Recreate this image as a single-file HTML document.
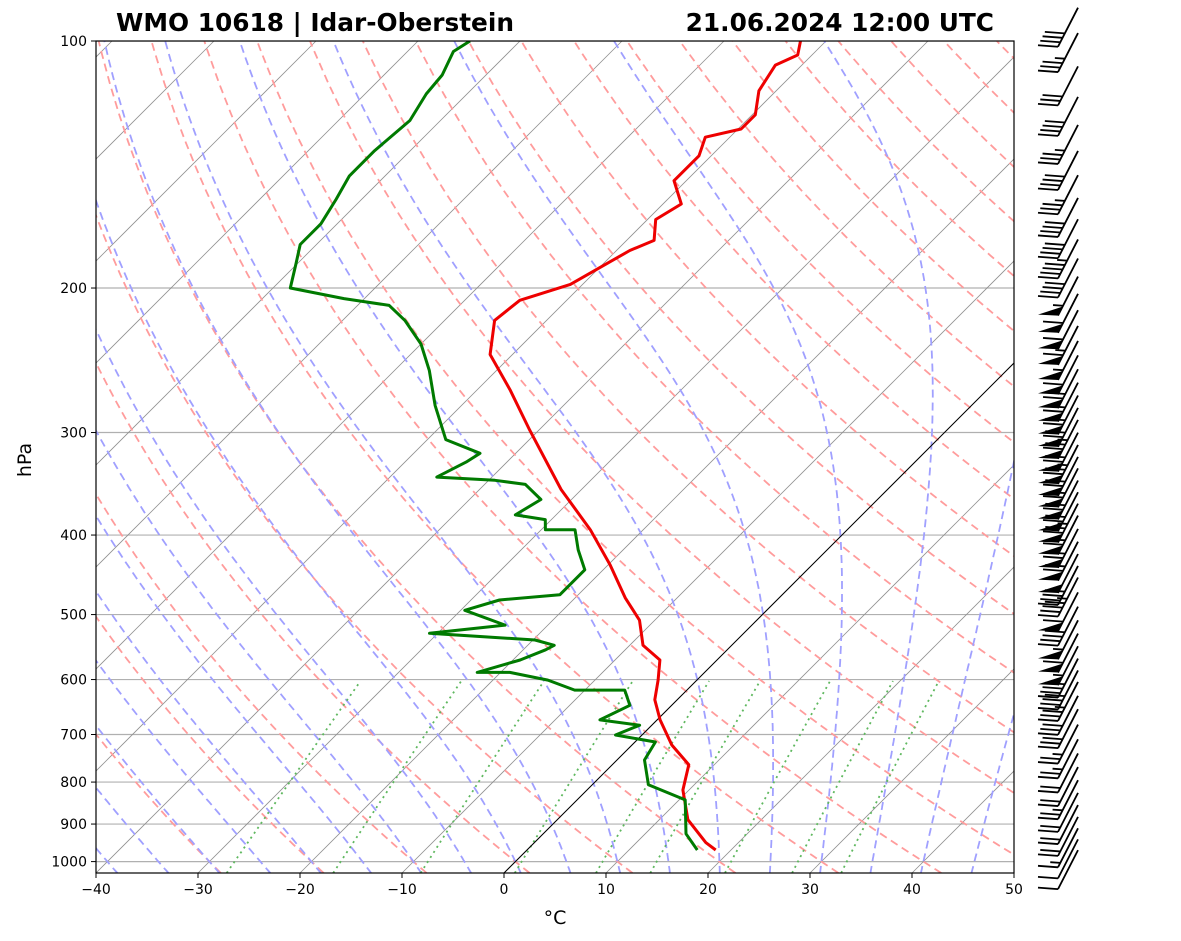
<!DOCTYPE html>
<html><head><meta charset="utf-8">
<style>
html,body{margin:0;padding:0;background:#fff;}
svg{display:block;font-family:"DejaVu Sans","Liberation Sans",sans-serif;}
</style></head>
<body>
<svg id="chart" width="1181" height="941" viewBox="0 0 1181 941" xmlns="http://www.w3.org/2000/svg">
<defs><clipPath id="plotclip"><rect x="96" y="41" width="918" height="832"/></clipPath></defs>
<rect width="1181" height="941" fill="#fff"/>
<text x="116" y="31" font-size="24.8" font-weight="bold">WMO 10618 | Idar-Oberstein</text>
<text x="994" y="31" font-size="24.8" font-weight="bold" text-anchor="end">21.06.2024 12:00 UTC</text>
<g id="bg" clip-path="url(#plotclip)"></g>
<g id="data" clip-path="url(#plotclip)"></g>
<rect x="96" y="41" width="918" height="832" fill="none" stroke="#000" stroke-width="1.2"/>
<g id="axes"></g>
<g id="barbs"></g>
<text transform="translate(31,460) rotate(-90)" font-size="19" text-anchor="middle">hPa</text>
<text x="555" y="924" font-size="19" text-anchor="middle">°C</text>
</svg>
<script>
// ---- data ----
const tempP = [968,948,889,818,762,721,672,635,601,568,545,508,477,435,394,352,298,266,241,219,207,198,187,180,175,165,158,148,138,131,128,123,115,107,104,100];
const tempT = [18.5,16.8,12.8,9.4,7.5,3.9,0.3,-2.2,-3.8,-5.6,-8.7,-11.5,-15.1,-19.8,-25.2,-32,-40.9,-46.8,-52.2,-55.1,-54.6,-51.2,-49.7,-48.7,-47.3,-49.2,-48.2,-51.2,-51.2,-52.4,-49.7,-49.7,-51.7,-52.6,-51.4,-52.5];
const dewP = [968,925,841,806,752,715,701,682,672,645,618,618,601,588,588,568,552,545,537,527,515,494,480,473,441,417,394,394,383,378,362,347,343,340,326,318,306,278,252,234,219,210,206,200,187,177,167,156,146,136,125,116,110,103,100];
const dewT = [16.7,14.0,10.6,5.5,2.7,2.0,-2.6,-1.2,-5.6,-4.1,-6.1,-11.0,-14.6,-19.1,-22.3,-19.3,-17.8,-17.4,-19.8,-30.8,-24.2,-29.6,-27.2,-21.8,-21.8,-24.4,-26.7,-29.6,-30.6,-34.0,-33.0,-36.0,-39.4,-45.4,-44.0,-43.5,-48.2,-52.6,-56.6,-60.0,-63.9,-66.9,-72,-78.3,-80.1,-81.6,-81.6,-82.5,-83.5,-83.5,-83.0,-84,-84.3,-85.5,-84.9];
const windP = [1010,980,950,920,890,860,830,800,770,740,710,680,655,630,610,590,570,550,530,510,490,470,455,440,425,410,395,382,370,358,346,335,324,313,302,292,282,272,262,252,242,232,222,212,202,192,182,172,162,152,142,132,122,112,102,95];
const windS = [10,10,15,20,20,20,25,20,20,25,25,30,30,35,40,40,55,60,55,40,60,45,40,50,70,70,65,75,70,70,65,70,75,70,75,70,70,65,70,60,55,65,60,60,55,40,45,40,40,35,40,35,40,30,35,40];
const xTicks = [-40,-30,-20,-10,0,10,20,30,40,50];
const pTicks = [100,200,300,400,500,600,700,800,900,1000];

// ---- axes functions ----
const X0=96,X1=1014,Y0=41,Y1=873,PXC=10.2,DEC=820.6;
function yP(p){return Y0+(Math.log10(p)-2)*DEC;}
function xT(T,p){const y=yP(p);return 504+PXC*T+(Y1-y);}
const NS="http://www.w3.org/2000/svg";
function mk(tag,attrs,parent){const e=document.createElementNS(NS,tag);for(const k in attrs)e.setAttribute(k,attrs[k]);parent.appendChild(e);return e;}
const bg=document.getElementById('bg'),dg=document.getElementById('data'),ax=document.getElementById('axes'),bb=document.getElementById('barbs');
const pBot=Math.pow(10,2+(Y1-Y0)/DEC);

pTicks.forEach(p=>{
  const l=mk('line',{x1:X0,x2:X1,y1:yP(p),y2:yP(p),stroke:'#b0b0b0','stroke-width':1.2},bg);
  
  
});
for(let T=-150;T<=50;T+=10){
  const l=mk('line',{x1:xT(T,pBot),y1:Y1,x2:xT(T,100),y2:Y0,stroke:'#909090','stroke-width':0.8},bg);
  
  
}
function poly(pts,attrs,parent,name){
  const d=pts.map((q,i)=>(i?'L':'M')+q[0].toFixed(1)+','+q[1].toFixed(1)).join('');
  const e=mk('path',Object.assign({d:d,fill:'none'},attrs),parent);
  
  
  return e;
}
for(let th=-30;th<=200;th+=10){
  const pts=[];
  for(let p=pBot;p>=100;p-=10){const T=(th+273.15)*Math.pow(p/1000,0.2857)-273.15;pts.push([xT(T,p),yP(p)]);}
  pts.push([xT((th+273.15)*Math.pow(0.1,0.2857)-273.15,100),yP(100)]);
  poly(pts,{stroke:'#ff9c9c','stroke-width':1.8,'stroke-dasharray':'8,5'},bg,'dry-adiabat');
}
function es(T){return 6.112*Math.exp(17.67*T/(T+243.5));}
function moistTraj(T0){
  const pts=[];let T=T0+273.15;let p=1000;
  const f=(T,p)=>{const rs=0.622*es(T-273.15)/(p-es(T-273.15));return (287*T+2.5e6*rs)/(p*(1004+2.5e6*2.5e6*rs*0.622/(287*T*T)));};
  let Td=T,pd=1000;const low=[];
  while(pd<pBot){Td+=f(Td,pd)*5;pd+=5;low.push([xT(Td-273.15,pd),yP(pd)]);}
  low.reverse().forEach(q=>pts.push(q));
  pts.push([xT(T0,1000),yP(1000)]);
  while(p>100){T-=f(T,p)*5;p-=5;pts.push([xT(T-273.15,p),yP(p)]);}
  return pts;
}
for(let t0=-40;t0<=50;t0+=5){
  poly(moistTraj(t0),{stroke:'#a0a0ff','stroke-width':1.8,'stroke-dasharray':'8,5'},bg,'moist-adiabat');
}
[0.0004,0.001,0.002,0.004,0.007,0.01,0.016,0.024,0.032].forEach(w=>{
  const pts=[];
  for(let p=pBot;p>=600;p-=10){const e=p*w/(0.622+w);const a=Math.log(e/6.112);const T=243.5*a/(17.67-a);pts.push([xT(T,p),yP(p)]);}
  poly(pts,{stroke:'#5fb85f','stroke-width':1.8,'stroke-dasharray':'2,4'},bg,'mixing-ratio-line');
});
poly([[xT(0,pBot),Y1],[xT(0,100),Y0]],{stroke:'#000','stroke-width':1},bg,'zero-isotherm');

poly(tempP.map((p,i)=>[xT(tempT[i],p),yP(p)]),{stroke:'#ee0000','stroke-width':3,'stroke-linejoin':'round'},dg,'temperature-profile');
poly(dewP.map((p,i)=>[xT(dewT[i],p),yP(p)]),{stroke:'#007a00','stroke-width':3,'stroke-linejoin':'round'},dg,'dewpoint-profile');

xTicks.forEach(t=>{
  const x=X0+(t+40)*PXC;
  const l=mk('line',{x1:x,x2:x,y1:Y1,y2:Y1+5,stroke:'#000'},ax);
  
  
  const tx=mk('text',{x:x,y:Y1+21,'font-size':14,'text-anchor':'middle'},ax);
  tx.textContent=(t<0?'\u2212'+(-t):t);
  
  
});
pTicks.forEach(p=>{
  const y=yP(p);
  const l=mk('line',{x1:X0-5,x2:X0,y1:y,y2:y,stroke:'#000'},ax);
  
  
  const tx=mk('text',{x:X0-9,y:y+5,'font-size':14,'text-anchor':'end'},ax);
  tx.textContent=p;
  
  
});

// wind barbs
windP.forEach((p,i)=>{
  const y=yP(p);
  const tip=[1078,y-15],tail=[1058,y+24];
  const g=mk('g',{},bb);
  
  
  mk('line',{x1:tip[0],y1:tip[1],x2:tail[0],y2:tail[1],stroke:'#000','stroke-width':1.8},g);
  const L=Math.hypot(tip[0]-tail[0],tip[1]-tail[1]);
  const at=d=>[tail[0]+(tip[0]-tail[0])*d/L,tail[1]+(tip[1]-tail[1])*d/L];
  let s=Math.round(windS[i]/5)*5,d=0;
  while(s>=50){const a=at(d),b=at(d+10);mk('polygon',{points:`${a[0]},${a[1]} ${b[0]},${b[1]} ${a[0]-20},${a[1]-1}`,fill:'#000'},g);s-=50;d+=11;}
  while(s>=10){const a=at(d);mk('line',{x1:a[0],y1:a[1],x2:a[0]-20,y2:a[1]-1.5,stroke:'#000','stroke-width':1.8},g);s-=10;d+=5;}
  if(s>=5){const a=at(Math.max(d,5));mk('line',{x1:a[0],y1:a[1],x2:a[0]-10,y2:a[1]-0.7,stroke:'#000','stroke-width':1.8},g);}
});
</script>
</body></html>
